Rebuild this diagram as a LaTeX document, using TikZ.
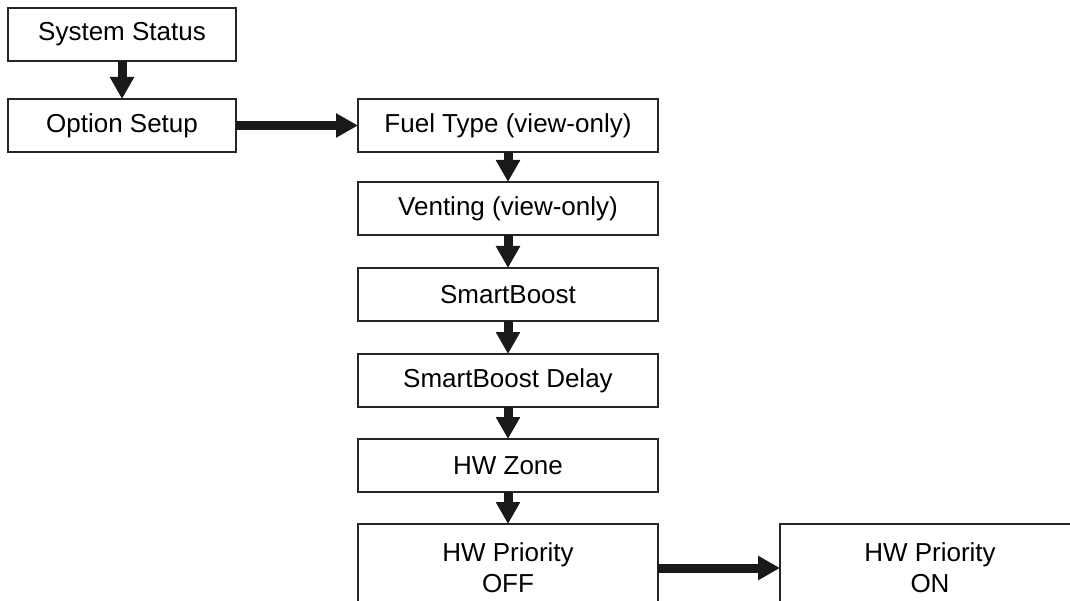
\documentclass[tikz,border=0pt]{standalone}
\usepackage{fontspec}
\setmainfont{Liberation Sans}
\usepackage{tikz}
\usetikzlibrary{arrows.meta,positioning}

\begin{document}
\begin{tikzpicture}[
  font=\fontsize{26}{31}\selectfont,
  menu/.style={draw=black!85, line width=1.5pt, minimum width=300pt, minimum height=53pt, inner sep=0pt, outer sep=0pt, align=center},
  top/.style={menu, minimum width=228pt},
  tall/.style={menu, minimum height=88pt},
  flow/.style={line width=9pt, draw=black!90, -{Triangle[length=22pt,width=23pt]}}
]
\clip (0,0) rectangle (1070pt,-601pt);

% Main menu
\node[top] (sys) at (122pt,-34.5pt) {System Status};
\node[top, below=38pt of sys] (opt) {Option Setup};

% Option setup items
\node[menu, right=122pt of opt] (fuel) {Fuel Type (view-only)};
\node[menu, below=30pt of fuel] (vent) {Venting (view-only)};
\node[menu, below=33pt of vent] (boost) {SmartBoost};
\node[menu, below=33pt of boost] (delay) {SmartBoost Delay};
\node[menu, below=32pt of delay] (zone) {HW Zone};
\node[tall, below=32pt of zone] (prioff) {HW Priority\\OFF};
\node[tall, right=122pt of prioff] (prion) {HW Priority\\ON};

% Arrows
\draw[flow] (sys) -- (opt);
\draw[flow] (opt) -- (fuel);
\draw[flow] (fuel) -- (vent);
\draw[flow] (vent) -- (boost);
\draw[flow] (boost) -- (delay);
\draw[flow] (delay) -- (zone);
\draw[flow] (zone) -- (prioff);
\draw[flow] (prioff) -- (prion);
\end{tikzpicture}
\end{document}
